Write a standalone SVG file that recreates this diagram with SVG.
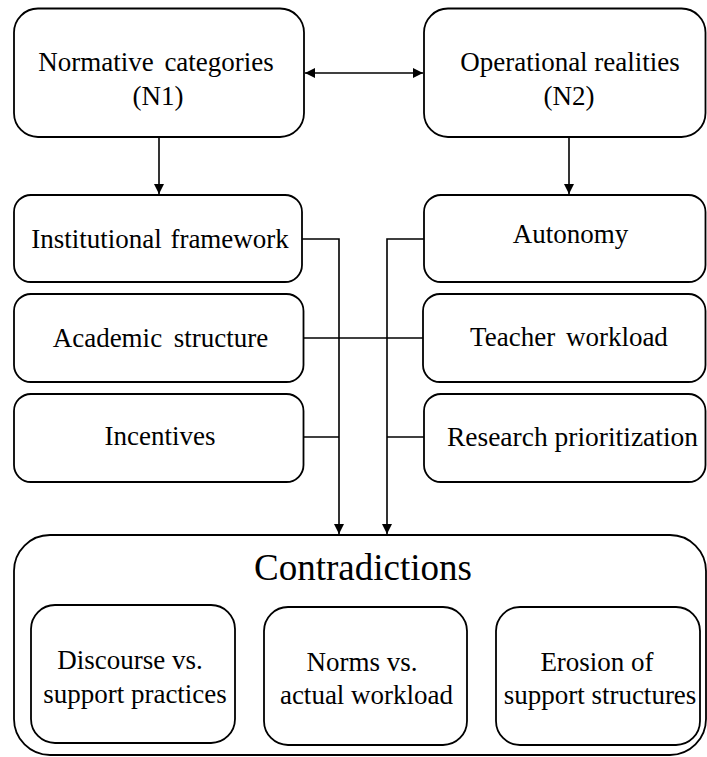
<svg xmlns="http://www.w3.org/2000/svg" width="707" height="757" viewBox="0 0 707 757">
<defs>
<marker id="ah" viewBox="0 0 10 10" refX="10" refY="5" markerWidth="10" markerHeight="10" markerUnits="userSpaceOnUse" orient="auto-start-reverse">
<path d="M0,0 L10,5 L0,10 z" fill="#000"/>
</marker>
</defs>
<g fill="#fff" stroke="#000" stroke-width="1.8">
<g id="contradictions">
<rect x="14" y="535" width="692" height="220" rx="36"/>
<text style="font-family:'Liberation Serif',serif" font-size="37" text-anchor="middle" fill="#000" stroke="none" x="363" y="580">Contradictions</text>
</g>
<g id="n1">
<rect x="14" y="8.5" width="290" height="128.5" rx="24"/>
<text style="font-family:'Liberation Serif',serif" font-size="27" text-anchor="middle" fill="#000" stroke="none" x="156" y="71" word-spacing="4">Normative categories</text>
<text style="font-family:'Liberation Serif',serif" font-size="27" text-anchor="middle" fill="#000" stroke="none" x="158" y="105">(N1)</text>
</g>
<g id="n2">
<rect x="424" y="8.5" width="281.5" height="128.5" rx="24"/>
<text style="font-family:'Liberation Serif',serif" font-size="27" text-anchor="middle" fill="#000" stroke="none" x="570" y="71">Operational realities</text>
<text style="font-family:'Liberation Serif',serif" font-size="27" text-anchor="middle" fill="#000" stroke="none" x="569" y="105">(N2)</text>
</g>
<g id="institutional">
<rect x="14" y="195" width="288" height="87" rx="17"/>
<text style="font-family:'Liberation Serif',serif" font-size="27" text-anchor="middle" fill="#000" stroke="none" x="160" y="248" word-spacing="2">Institutional framework</text>
</g>
<g id="academic">
<rect x="14" y="294" width="289.5" height="88" rx="17"/>
<text style="font-family:'Liberation Serif',serif" font-size="27" text-anchor="middle" fill="#000" stroke="none" x="160.5" y="347" word-spacing="5">Academic structure</text>
</g>
<g id="incentives">
<rect x="14" y="394" width="289.5" height="88" rx="17"/>
<text style="font-family:'Liberation Serif',serif" font-size="27" text-anchor="middle" fill="#000" stroke="none" x="160" y="445">Incentives</text>
</g>
<g id="autonomy">
<rect x="424" y="195" width="281.5" height="87" rx="17"/>
<text style="font-family:'Liberation Serif',serif" font-size="27" text-anchor="middle" fill="#000" stroke="none" x="570.5" y="243">Autonomy</text>
</g>
<g id="workload">
<rect x="423" y="294" width="282.5" height="88" rx="17"/>
<text style="font-family:'Liberation Serif',serif" font-size="27" text-anchor="middle" fill="#000" stroke="none" x="569" y="346" word-spacing="4">Teacher workload</text>
</g>
<g id="research">
<rect x="424" y="394" width="281.5" height="88" rx="17"/>
<text style="font-family:'Liberation Serif',serif" font-size="27.5" text-anchor="middle" fill="#000" stroke="none" x="572.5" y="446">Research prioritization</text>
</g>
<g id="discourse">
<rect x="31" y="605" width="204" height="138" rx="24"/>
<text style="font-family:'Liberation Serif',serif" font-size="27" text-anchor="middle" fill="#000" stroke="none" x="130" y="669">Discourse vs.</text>
<text style="font-family:'Liberation Serif',serif" font-size="27" text-anchor="middle" fill="#000" stroke="none" x="135" y="703">support practices</text>
</g>
<g id="norms">
<rect x="264" y="607" width="203" height="138" rx="24"/>
<text style="font-family:'Liberation Serif',serif" font-size="27" text-anchor="middle" fill="#000" stroke="none" x="362" y="671">Norms vs.</text>
<text style="font-family:'Liberation Serif',serif" font-size="27" text-anchor="middle" fill="#000" stroke="none" x="366.5" y="704">actual workload</text>
</g>
<g id="erosion">
<rect x="496" y="607" width="204" height="138" rx="24"/>
<text style="font-family:'Liberation Serif',serif" font-size="27" text-anchor="middle" fill="#000" stroke="none" x="597" y="671">Erosion of</text>
<text style="font-family:'Liberation Serif',serif" font-size="27" text-anchor="middle" fill="#000" stroke="none" x="600" y="704">support structures</text>
</g>
</g>
<g id="connectors" fill="none" stroke="#000" stroke-width="1.6">
<line x1="305" y1="73" x2="423" y2="73" marker-start="url(#ah)" marker-end="url(#ah)"/>
<line x1="159" y1="137" x2="159" y2="194" marker-end="url(#ah)"/>
<line x1="569" y1="137" x2="569" y2="194" marker-end="url(#ah)"/>
<polyline points="302,239 339,239 339,534" marker-end="url(#ah)"/>
<polyline points="424,239 387,239 387,534" marker-end="url(#ah)"/>
<line x1="303.5" y1="338" x2="423" y2="338"/>
<line x1="303.5" y1="437" x2="339" y2="437"/>
<line x1="387" y1="437" x2="424" y2="437"/>
</g>
</svg>
